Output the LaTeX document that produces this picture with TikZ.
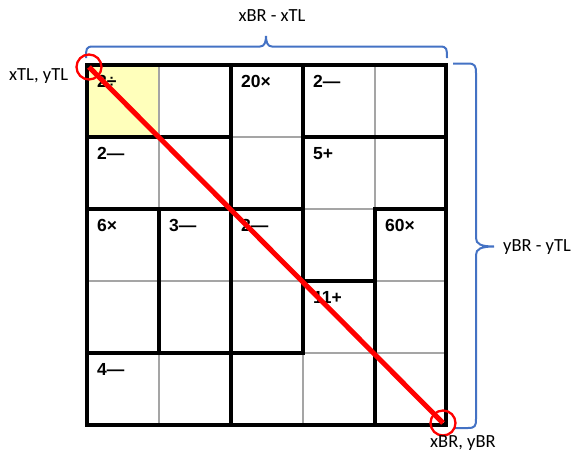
\documentclass[tikz,border=0pt]{standalone}
\usepackage{fontspec}
\setmainfont{Carlito}
\newfontfamily\cellfont{Liberation Sans}
\definecolor{kyellow}{RGB}{255,255,187}
\definecolor{kblue}{RGB}{68,114,196}
\definecolor{kred}{RGB}{255,0,0}
\definecolor{kgray}{RGB}{165,165,165}
\begin{document}
\begin{tikzpicture}[x=1pt,y=-1pt,
  gridline/.style={kgray,line width=1.2pt},
  cage/.style={black,line width=4.5pt,line cap=rect},
  cagelabel/.style={anchor=north west,inner sep=0pt,font=\cellfont\bfseries\fontsize{17.5}{17.5}\selectfont},
  marker/.style={circle,draw=kred,line width=2.3pt,minimum size=25pt,inner sep=0pt},
  diag/.style={kred,line width=5pt},
  bracket/.style={kblue,line width=2pt},
  annot/.style={inner sep=0pt,font=\fontsize{18.5}{18.5}\selectfont}]
\useasboundingbox (0,0) rectangle (574,456);
% highlighted cell
\fill[kyellow] (87,65) rectangle (159,137);
% thin grid
\foreach \x in {159,231,303,375} \draw[gridline] (\x,65) -- (\x,425);
\foreach \y in {137,209,281,353} \draw[gridline] (87,\y) -- (446,\y);
% cage borders
\draw[cage] (159,209) -- (159,353);
\draw[cage] (231,65) -- (231,425);
\draw[cage] (303,65) -- (303,353);
\draw[cage] (375,209) -- (375,425);
\draw[cage] (87,137) -- (231,137);
\draw[cage] (303,137) -- (446,137);
\draw[cage] (87,209) -- (303,209);
\draw[cage] (375,209) -- (446,209);
\draw[cage] (303,281) -- (375,281);
\draw[cage] (87,353) -- (303,353);
\draw[cage] (87,65) rectangle (446,425);
% cage labels
\node[cagelabel] (c1) at (97,75) {2÷};
\node[cagelabel] (c2) at (241,75) {20×};
\node[cagelabel] (c3) at (313,75) {2—};
\node[cagelabel] (c4) at (97,147) {2—};
\node[cagelabel] (c5) at (313,147) {5+};
\node[cagelabel] (c6) at (97,219) {6×};
\node[cagelabel] (c7) at (169,219) {3—};
\node[cagelabel] (c8) at (241,219) {2—};
\node[cagelabel] (c9) at (385,219) {60×};
\node[cagelabel] (c10) at (313,291) {11+};
\node[cagelabel] (c11) at (97,363) {4—};
% braces
\draw[bracket] (86,58) .. controls (86,49) and (86,46.5) .. (93,46.5) -- (260,46.5)
  .. controls (264.5,46.5) and (266,42) .. (266,36)
  .. controls (266,42) and (267.5,46.5) .. (272,46.5) -- (440,46.5)
  .. controls (447,46.5) and (447,49) .. (447,58);
\draw[bracket] (453,63.5) -- (468,63.5) .. controls (475,63.5) and (476,66) .. (476,73) -- (476,238)
  .. controls (476,244) and (481,246.5) .. (494,246.5)
  .. controls (481,246.5) and (476,249) .. (476,255) -- (476,419)
  .. controls (476,426) and (475,428) .. (468,428) -- (455,428);
% diagonal and markers
\node[marker] (tl) at (89,67) {};
\node[marker] (br) at (443,423) {};
\draw[diag] (tl.center) -- (br.center);
% annotations
\node[annot,anchor=base] (w) at (272,21) {xBR - xTL};
\node[annot,anchor=base west] (h) at (503,251) {yBR - yTL};
\node[annot,anchor=base west] (ptl) at (9,80) {xTL, yTL};
\node[annot,anchor=base west] (pbr) at (430,447) {xBR, yBR};
\end{tikzpicture}
\end{document}
